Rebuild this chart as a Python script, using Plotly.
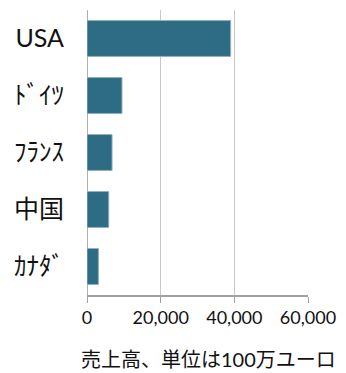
import plotly.graph_objects as go

# Sales by country (millions of euros)
countries = ["USA", "ﾄﾞｲﾂ", "ﾌﾗﾝｽ", "中国", "ｶﾅﾀﾞ"]
sales = [39000, 9500, 6800, 5900, 3100]
x_ticks = [0, 20000, 40000, 60000]
x_tick_labels = ["0", "20,000", "40,000", "60,000"]
x_title = "売上高、単位は100万ユーロ"

FONT = "Lato, 'Noto Sans CJK JP', sans-serif"

fig = go.Figure(
    go.Bar(
        x=sales,
        y=countries,
        orientation="h",
        width=0.63,
        marker=dict(color="#2e6b84", line=dict(color="#8fb0c0", width=1)),
    )
)

fig.update_layout(
    width=346,
    height=373,
    margin=dict(l=87, r=38, t=10, b=78),
    paper_bgcolor="white",
    plot_bgcolor="white",
    showlegend=False,
    font=dict(family=FONT, color="#111111"),
    xaxis=dict(
        range=[0, 60000],
        tickvals=x_ticks,
        ticktext=x_tick_labels,
        tickfont=dict(size=18),
        showgrid=True,
        gridcolor="#c8c8c8",
        gridwidth=1,
        zeroline=True,
        zerolinecolor="#b0b0b0",
        zerolinewidth=1,
        showline=True,
        linecolor="#a0a0a0",
        linewidth=1.5,
        ticks="outside",
        ticklen=6,
        tickcolor="#a0a0a0",
        fixedrange=True,
    ),
    yaxis=dict(
        categoryorder="array",
        categoryarray=countries[::-1],
        tickfont=dict(size=25),
        ticklabelstandoff=22,
        showgrid=False,
        showline=False,
        ticks="",
        fixedrange=True,
    ),
    annotations=[
        dict(
            text=x_title,
            xref="paper",
            yref="paper",
            x=(79 - 87) / 221,
            y=-(373 - 295) / 285,
            xanchor="left",
            yanchor="bottom",
            showarrow=False,
            font=dict(size=20, family=FONT),
        )
    ],
)

fig.write_html("out.html")
